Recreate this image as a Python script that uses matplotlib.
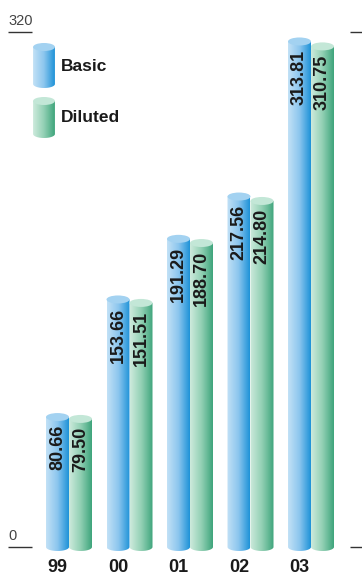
import matplotlib
matplotlib.use("Agg")
import matplotlib.pyplot as plt
import numpy as np
from matplotlib.colors import LinearSegmentedColormap
from matplotlib.patches import Ellipse, PathPatch
from matplotlib.path import Path

years = ["99", "00", "01", "02", "03"]
basic = [80.66, 153.66, 191.29, 217.56, 313.81]
diluted = [79.50, 151.51, 188.70, 214.80, 310.75]
series_names = ["Basic", "Diluted"]
y_max = 320

# figure geometry (pixels)
W, H = 362, 576
BASE_PX, TOP_PX = 547, 31.5          # y pixel of 0 and of 320
FIRST_PX, STEP_PX = 69, 60.5         # x pixel of first group centre, group spacing
BAR_PX, CAP_PX = 23, 4               # bar width, half height of ellipse caps

ppu = (BASE_PX - TOP_PX) / y_max


def px_x(p):
    return (p - FIRST_PX) / STEP_PX


def px_y(p):
    return (BASE_PX - p) / ppu


STYLES = {
    "Basic": dict(grad=["#c2e1f6", "#8cc6ee", "#1f93d8"], top="#a3d2f1"),
    "Diluted": dict(grad=["#cdeadc", "#92d0b4", "#3fa57c"], top="#c3e7d7"),
}


def cylinder(ax, xc, y0, y1, style, bw, cap):
    x0, x1 = xc - bw / 2, xc + bw / 2
    t = np.linspace(np.pi, 2 * np.pi, 40)
    ex = xc + bw / 2 * np.cos(t)
    ey = y0 + cap * np.sin(t)
    verts = [(x0, y1)] + list(zip(ex, ey)) + [(x1, y1), (x0, y1)]
    path = Path(verts, closed=True)
    clip = PathPatch(path, facecolor="none", edgecolor="none", transform=ax.transData)
    ax.add_patch(clip)
    cmap = LinearSegmentedColormap.from_list("g", style["grad"])
    grad = np.linspace(0, 1, 64).reshape(1, -1)
    im = ax.imshow(grad, cmap=cmap, aspect="auto", extent=(x0, x1, y0 - cap, y1),
                   interpolation="bilinear", zorder=2)
    im.set_clip_path(clip)
    ax.add_patch(Ellipse((xc, y1), bw, 2 * cap, facecolor=style["top"],
                         edgecolor="none", zorder=3))


fig = plt.figure(figsize=(W / 100, H / 100), dpi=100)
ax = fig.add_axes([0, 0, 1, 1])
ax.set_axis_off()

bw = BAR_PX / STEP_PX
cap = CAP_PX / ppu
x = np.arange(len(years))

for i, year in enumerate(years):
    for j, (name, vals) in enumerate(zip(series_names, [basic, diluted])):
        xc = x[i] + (j - 0.5) * bw
        cylinder(ax, xc, 0, vals[i], STYLES[name], bw, cap)
        ax.text(xc, vals[i] - 8 / ppu, f"{vals[i]:.2f}", rotation=90, ha="center", va="top",
                fontsize=13, fontweight="bold", color="#1a1a1a", family="Liberation Sans",
                zorder=4)
    ax.text(x[i] - bw / 2, px_y(567), year, ha="center", va="center", fontsize=13,
            fontweight="bold", color="#1a1a1a", family="Liberation Sans")

# scale marks
for val in [0, y_max]:
    ax.plot([px_x(8), px_x(32)], [val, val], color="#333333", lw=1, solid_capstyle="butt")
    ax.plot([px_x(350), px_x(362)], [val, val], color="#333333", lw=1, solid_capstyle="butt")
    ax.text(px_x(8), val + 4 / ppu, str(val), ha="left", va="bottom", fontsize=10.5,
            color="#444444", family="Liberation Sans")

# legend
legend_rows = [(47, 84, 66), (101, 134, 117)]
for name, (top_p, bot_p, txt_p) in zip(series_names, legend_rows):
    cylinder(ax, px_x(44), px_y(bot_p), px_y(top_p), STYLES[name], BAR_PX / STEP_PX * 0.95, cap)
    ax.text(px_x(61), px_y(txt_p), name, ha="left", va="center", fontsize=12.5,
            fontweight="bold", color="#1a1a1a", family="Liberation Sans")

ax.set_xlim(px_x(0), px_x(W))
ax.set_ylim(px_y(H), px_y(0))

fig.savefig("out.png", dpi=100)
